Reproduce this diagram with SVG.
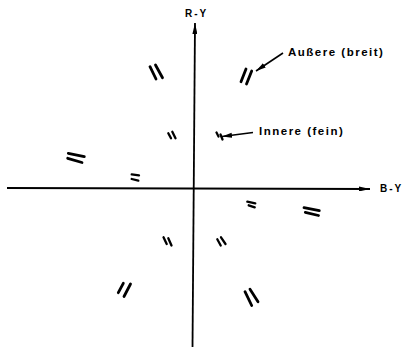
<svg xmlns="http://www.w3.org/2000/svg" width="403" height="347" viewBox="0 0 403 347">
<style>
.axis{stroke:#000;stroke-width:1.8;fill:none}
.ptr{stroke:#000;stroke-width:1.6;fill:none}
.outer line{stroke:#000;stroke-width:2.8;stroke-linecap:round}
.inner line{stroke:#000;stroke-width:2.3;stroke-linecap:round}
.lbl{font-family:"Liberation Sans",Arial,sans-serif;font-weight:bold;font-size:11.5px;letter-spacing:1.5px;fill:#000}
.ax{font-family:"Liberation Sans",Arial,sans-serif;font-weight:bold;font-size:10px;letter-spacing:2px;fill:#000}
</style>
<defs>
<marker id="ah" markerUnits="userSpaceOnUse" markerWidth="11" markerHeight="5" refX="11" refY="2.5" orient="auto">
<path d="M0,0 L11,2.5 L0,5 z" fill="#000"/>
</marker>
<marker id="ph" markerUnits="userSpaceOnUse" markerWidth="10" markerHeight="6" refX="10" refY="3" orient="auto">
<path d="M0,0.5 L10,3 L0,5.5 z" fill="#000"/>
</marker>
</defs>
<rect width="403" height="347" fill="#fff"/>
<g id="connectors">
<line class="axis" x1="192.5" y1="347" x2="195" y2="23" marker-end="url(#ah)"/>
<line class="axis" x1="7" y1="188" x2="370" y2="189" marker-end="url(#ah)"/>
<line class="ptr" x1="283" y1="53" x2="256" y2="71" marker-end="url(#ph)"/>
<line class="ptr" x1="253" y1="132.5" x2="222" y2="136.5" marker-end="url(#ph)"/>
</g>
<g id="label-ry"><text class="ax" x="185" y="17">R-Y</text></g>
<g id="label-by"><text class="ax" x="380" y="192">B-Y</text></g>
<g id="label-aussere"><text class="lbl" x="288" y="56">Außere (breit)</text></g>
<g id="label-innere"><text class="lbl" x="259" y="135">Innere (fein)</text></g>
<g id="outer-ul" class="outer"><line x1="150" y1="66.7" x2="156" y2="79"/><line x1="155.5" y1="65" x2="162.5" y2="77.7"/></g>
<g id="outer-ur" class="outer"><line x1="246" y1="69" x2="241" y2="81.7"/><line x1="251.7" y1="71" x2="246.5" y2="84"/></g>
<g id="outer-l" class="outer"><line x1="68.3" y1="153.3" x2="84.3" y2="156.7"/><line x1="67.7" y1="158.3" x2="82" y2="162.5"/></g>
<g id="outer-r" class="outer"><line x1="304" y1="207.7" x2="319.3" y2="210.7"/><line x1="305.3" y1="212.3" x2="318.5" y2="215.5"/></g>
<g id="outer-ll" class="outer"><line x1="123.3" y1="283.3" x2="118.3" y2="292.7"/><line x1="130.5" y1="284" x2="124" y2="296.5"/></g>
<g id="outer-lr" class="outer"><line x1="245" y1="291.7" x2="251.7" y2="305.5"/><line x1="250" y1="289.3" x2="258" y2="301.7"/></g>
<g id="inner-ul" class="inner"><line x1="168.3" y1="133.3" x2="171" y2="138.3"/><line x1="172.3" y1="131.7" x2="175.5" y2="138.3"/></g>
<g id="inner-ur" class="inner"><line x1="216.5" y1="132.5" x2="218.5" y2="136.5"/><line x1="220.5" y1="134.5" x2="222.5" y2="139.5"/></g>
<g id="inner-l" class="inner"><line x1="131.7" y1="174.3" x2="139" y2="175.3"/><line x1="131.7" y1="179" x2="138.3" y2="180.7"/></g>
<g id="inner-r" class="inner"><line x1="247.3" y1="201.7" x2="255.3" y2="203.3"/><line x1="248.7" y1="205.3" x2="254.7" y2="207.3"/></g>
<g id="inner-ll" class="inner"><line x1="163.5" y1="237.3" x2="166.7" y2="244"/><line x1="168.3" y1="238.3" x2="171.5" y2="245.5"/></g>
<g id="inner-lr" class="inner"><line x1="217.3" y1="239.3" x2="220.7" y2="245.5"/><line x1="221" y1="237.3" x2="225.5" y2="244"/></g>
</svg>
